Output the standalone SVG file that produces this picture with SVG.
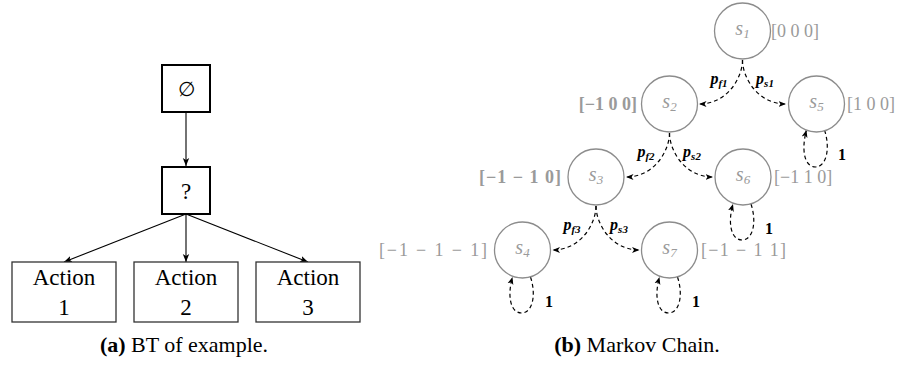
<svg xmlns="http://www.w3.org/2000/svg" width="897" height="372" viewBox="0 0 897 372">
<style>
.bg{fill:#fff}
.tbox{fill:#fff;stroke:#000;stroke-width:2}
.abox{fill:#fff;stroke:#333;stroke-width:1.3}
.tt{font-family:"Liberation Serif",serif;font-size:23px;fill:#000;text-anchor:middle}
.tl{stroke:#000;stroke-width:1.1;fill:none}
.st{fill:#fff;stroke:#8c8c8c;stroke-width:1.3}
.sl{font-family:"Liberation Serif",serif;font-style:italic;font-size:20px;fill:#9a9a9a;text-anchor:middle}
.sub{font-size:13px}
.vec{font-family:"Liberation Serif",serif;font-size:18px;fill:#9a9a9a}
.de{stroke:#000;stroke-width:1.2;fill:none;stroke-dasharray:4 3}
.pl{font-family:"Liberation Serif",serif;font-style:italic;font-weight:bold;font-size:16px;fill:#000;text-anchor:middle}
.ps{font-size:11px}
.one{font-family:"Liberation Serif",serif;font-weight:bold;font-size:16px;fill:#000}
.cap{font-family:"Liberation Serif",serif;font-size:22px;fill:#000;text-anchor:middle}
</style>
<defs>
<marker id="ah" markerWidth="9" markerHeight="8" refX="8" refY="4" orient="auto" markerUnits="userSpaceOnUse"><path d="M0,0.8 L8,4 L0,7.2 L2,4 z" fill="#000"/></marker>
<marker id="dh" markerWidth="9" markerHeight="8" refX="7.5" refY="4" orient="auto" markerUnits="userSpaceOnUse"><path d="M0,1 L7.5,4 L0,7 L2,4 z" fill="#000"/></marker>
</defs>
<rect class="bg" x="0" y="0" width="897" height="372"/>

<g id="connectors">
  <line class="tl" x1="186" y1="112" x2="186" y2="166" marker-end="url(#ah)"/>
  <line class="tl" x1="186" y1="214" x2="64" y2="262" marker-end="url(#ah)"/>
  <line class="tl" x1="186" y1="214" x2="186" y2="262" marker-end="url(#ah)"/>
  <line class="tl" x1="186" y1="214" x2="308" y2="262" marker-end="url(#ah)"/>

  <path class="de" d="M742.5 60 C742.5 77 728 104 699 104" marker-end="url(#dh)"/>
  <path class="de" d="M742.5 60 C742.5 77 757 104 786 104" marker-end="url(#dh)"/>
  <path class="de" d="M669.5 133 C669.5 150 655 177 626 177" marker-end="url(#dh)"/>
  <path class="de" d="M669.5 133 C669.5 150 684 177 713 177" marker-end="url(#dh)"/>
  <path class="de" d="M596 206 C596 223 581.5 250 552.5 250" marker-end="url(#dh)"/>
  <path class="de" d="M596 206 C596 223 610.5 250 639.5 250" marker-end="url(#dh)"/>

  <path class="de" d="M824.5 130 C830.5 148 826.5 167 815.5 167 C804.5 167 801 150 806.5 130" marker-end="url(#dh)"/>
  <path class="de" d="M751 204 C757 222 753 240 742 240 C731 240 727.5 223 733 204" marker-end="url(#dh)"/>
  <path class="de" d="M530.5 277 C536.5 295 532.5 313 521.5 313 C510.5 313 507 296 512.5 277" marker-end="url(#dh)"/>
  <path class="de" d="M677.5 277 C683.5 295 679.5 313 668.5 313 C657.5 313 654 296 659.5 277" marker-end="url(#dh)"/>

  <text class="pl" x="719" y="84">p<tspan class="ps" dy="3">f1</tspan></text>
  <text class="pl" x="765" y="84">p<tspan class="ps" dy="3">s1</tspan></text>
  <text class="pl" x="646" y="157">p<tspan class="ps" dy="3">f2</tspan></text>
  <text class="pl" x="692" y="157">p<tspan class="ps" dy="3">s2</tspan></text>
  <text class="pl" x="572" y="230">p<tspan class="ps" dy="3">f3</tspan></text>
  <text class="pl" x="619" y="230">p<tspan class="ps" dy="3">s3</tspan></text>

  <text class="one" x="838" y="160">1</text>
  <text class="one" x="765" y="234">1</text>
  <text class="one" x="545" y="307">1</text>
  <text class="one" x="692" y="307">1</text>
</g>

<g id="n-empty">
  <rect class="tbox" x="162" y="65" width="48" height="47"/>
  <text x="186" y="96" style="font-family:'DejaVu Serif',serif;font-size:20px;text-anchor:middle;fill:#000">∅</text>
</g>
<g id="n-fallback">
  <rect class="tbox" x="162" y="167" width="48" height="47"/>
  <text class="tt" x="186" y="199">?</text>
</g>
<g id="n-action1">
  <rect class="abox" x="12" y="262" width="104" height="60"/>
  <text class="tt" x="64" y="285">Action</text>
  <text class="tt" x="64" y="315">1</text>
</g>
<g id="n-action2">
  <rect class="abox" x="134" y="262" width="104" height="60"/>
  <text class="tt" x="186" y="285">Action</text>
  <text class="tt" x="186" y="315">2</text>
</g>
<g id="n-action3">
  <rect class="abox" x="256" y="262" width="104" height="60"/>
  <text class="tt" x="308" y="285">Action</text>
  <text class="tt" x="308" y="315">3</text>
</g>

<g id="n-s1">
  <circle class="st" cx="742.5" cy="31" r="28"/>
  <text class="sl" x="742.5" y="35">s<tspan class="sub" dy="3">1</tspan></text>
  <text class="vec" x="771" y="37">[0 0 0]</text>
</g>
<g id="n-s2">
  <circle class="st" cx="669.5" cy="104" r="28"/>
  <text class="sl" x="669.5" y="108">s<tspan class="sub" dy="3">2</tspan></text>
  <text class="vec" x="637" y="110" text-anchor="end" font-weight="bold">[−1 0 0]</text>
</g>
<g id="n-s5">
  <circle class="st" cx="816.5" cy="104" r="28"/>
  <text class="sl" x="816.5" y="108">s<tspan class="sub" dy="3">5</tspan></text>
  <text class="vec" x="847" y="110">[1 0 0]</text>
</g>
<g id="n-s3">
  <circle class="st" cx="596" cy="177" r="28"/>
  <text class="sl" x="596" y="181">s<tspan class="sub" dy="3">3</tspan></text>
  <text class="vec" x="561" y="183" text-anchor="end" font-weight="bold" textLength="82" lengthAdjust="spacing">[−1 − 1 0]</text>
</g>
<g id="n-s6">
  <circle class="st" cx="743" cy="177" r="28"/>
  <text class="sl" x="743" y="181">s<tspan class="sub" dy="3">6</tspan></text>
  <text class="vec" x="774" y="183">[−1 1 0]</text>
</g>
<g id="n-s4">
  <circle class="st" cx="522.5" cy="250" r="28"/>
  <text class="sl" x="522.5" y="254">s<tspan class="sub" dy="3">4</tspan></text>
  <text class="vec" x="379" y="256" textLength="108" lengthAdjust="spacing">[−1 − 1 − 1]</text>
</g>
<g id="n-s7">
  <circle class="st" cx="669.5" cy="250" r="28"/>
  <text class="sl" x="669.5" y="254">s<tspan class="sub" dy="3">7</tspan></text>
  <text class="vec" x="701" y="256" textLength="85" lengthAdjust="spacing">[−1 − 1 1]</text>
</g>

<text class="cap" x="184" y="352"><tspan font-weight="bold">(a)</tspan> BT of example.</text>
<text class="cap" x="637" y="352"><tspan font-weight="bold">(b)</tspan> Markov Chain.</text>
</svg>
